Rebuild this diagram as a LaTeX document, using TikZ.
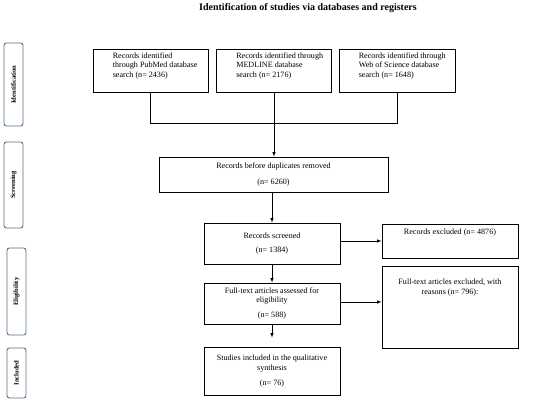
\documentclass[tikz,border=0pt]{standalone}
\usepackage{fontspec}
\setmainfont{Liberation Serif}
\usepackage{tikz}
\usetikzlibrary{arrows.meta,arrows}
\definecolor{phaseline}{RGB}{88,112,140}

\begin{document}
\begin{tikzpicture}[x=1pt,y=-1pt,
    font=\fontsize{8.1}{9.3}\selectfont,
    box/.style={draw, line width=0.8pt, inner sep=1pt, align=center},
    search/.style={box, minimum width=115pt, minimum height=43pt},
    phase/.style={draw=phaseline, line width=0.9pt, rounded corners=2.5pt, rotate=90,
        minimum height=19pt, inner sep=0pt, font=\fontsize{6.6}{7}\selectfont\bfseries},
    link/.style={line width=0.6pt}]
    \useasboundingbox (0,0) rectangle (550,402);
    % Title
    \node (title) at (308, 8.5) {\fontsize{10}{12}\selectfont\bfseries Identification of studies via databases and registers};
    % Phase labels on the left
    \node[phase, minimum width=83pt] (idf) at (13.5, 84.5) {Identification};
    \node[phase, minimum width=86pt] (scr) at (13.5, 185) {Screening};
    \node[phase, minimum width=87pt] (elg) at (16.5, 291.5) {Eligibility};
    \node[phase, minimum width=50pt] (inc) at (16.5, 373) {Included};
    % Database searches
    \node[search, label={[name=pubmedT, anchor=north west, xshift=19pt, yshift=-3pt, inner sep=1pt, align=left]north west:
        Records identified\\ through PubMed database\\ search (n= 2436)}] (pubmed) at (150.5, 70.5) {};
    \node[search, label={[name=medlineT, anchor=north west, xshift=19pt, yshift=-3pt, inner sep=1pt, align=left]north west:
        Records identified through\\ MEDLINE database\\ search (n= 2176)}] (medline) at (274, 70.5) {};
    \node[search, minimum width=116pt, label={[name=wosT, anchor=north west, xshift=19pt, yshift=-3pt, inner sep=1pt, align=left]north west:
        Records identified through\\ Web of Science database\\ search (n= 1648)}] (wos) at (397, 70.5) {};
    % Main flow
    \node[box, minimum width=229pt, minimum height=35pt] (dup) at (273.5, 174.5)
        {Records before duplicates removed\\[7.5pt] (n= 6260)};
    \node[box, minimum width=136pt, minimum height=41pt] (screened) at (272, 243.5)
        {Records screened\\[5.5pt] (n= 1384)};
    \node[box, minimum width=136pt, minimum height=41pt] (fulltext) at (272, 303.5)
        {Full-text articles assessed for\\ eligibility\\[5.5pt] (n= 588)};
    \node[box, minimum width=136pt, minimum height=48pt] (incl) at (272, 371)
        {Studies included in the qualitative\\ synthesis\\[5.5pt] (n= 76)};
    % Exclusions
    \node[box, minimum width=136pt, minimum height=34pt,
        label={[name=exclA, anchor=north, yshift=-4pt, inner sep=1pt]north:Records excluded (n= 4876)}] (excl) at (450, 241) {};
    \node[box, minimum width=136pt, minimum height=82pt,
        label={[name=exclB, anchor=north, yshift=-12.5pt, inner sep=1pt, align=center]north:Full-text articles excluded, with\\ reasons (n= 796):}] (exclft) at (450, 307) {};
    % Merge of the three searches
    \coordinate (mleft) at (pubmed.south |- 0, 123);
    \coordinate (mright) at (wos.south |- 0, 123);
    \draw[link] (pubmed.south) -- (mleft) -- (mright) -- (wos.south);
    \draw[link, -latex] (medline.south) -- (medline.south |- dup.north);
    % Flow arrows
    \draw[link, -latex] (dup.south -| screened.north) -- (screened.north);
    \draw[link, -latex] (screened.south) -- (fulltext.north);
    \draw[link, -latex, shorten >=9pt] (fulltext.south) -- (incl.north);
    \draw[link, -latex] (screened.east |- excl.west) -- (excl.west);
    \draw[link, -latex] (fulltext.east |- 0, 302) -- (exclft.west |- 0, 302);
\end{tikzpicture}
\end{document}
